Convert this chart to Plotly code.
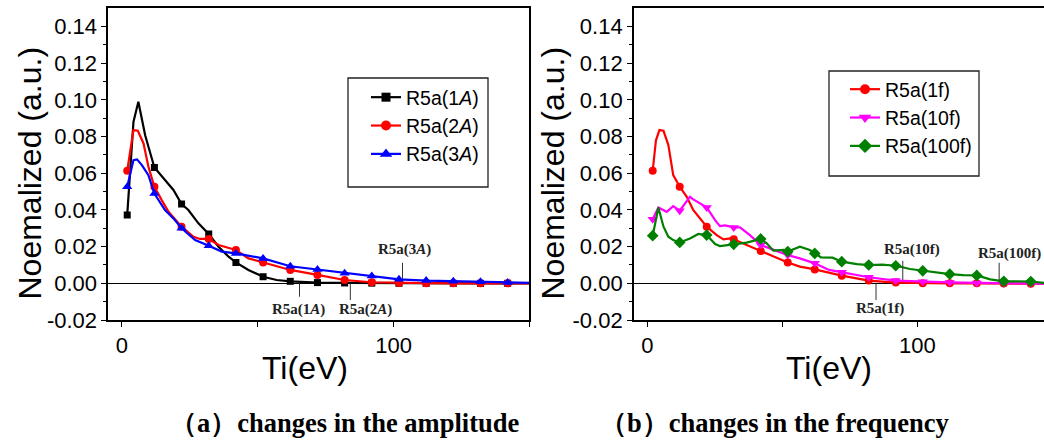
import plotly.graph_objects as go

# ---------------- data: panel (a) changes in the amplitude ----------------
x_1A = [2, 4.3, 6.1, 8.6, 12, 15.9, 19, 22, 24.5, 28.2, 32, 35.6, 39.3, 42, 46.6, 52, 57, 62,
        72, 82, 92, 102, 112, 122, 132, 142, 150]
y_1A = [0.0372, 0.0881, 0.099, 0.0808, 0.0632, 0.0563, 0.0509, 0.0432, 0.040, 0.0327, 0.0269,
        0.020, 0.0145, 0.0114, 0.0073, 0.0036, 0.0018, 0.0011, 0.0004, 0.0002, 0.0001, 0, 0, 0,
        0, 0, 0]

x_2A = [2, 4.3, 5.9, 8, 9.8, 12, 14.7, 17.2, 22, 26.4, 28.8, 32, 35.6, 42, 46.6, 52, 57.7, 62,
        72, 82, 92, 102, 112, 122, 132, 142, 150]
y_2A = [0.0614, 0.0836, 0.0832, 0.0763, 0.0636, 0.0527, 0.0454, 0.039, 0.0309, 0.0254, 0.0242,
        0.0242, 0.0209, 0.0182, 0.0136, 0.0113, 0.0091, 0.0073, 0.0046, 0.0018, 0.0006, 0.0002,
        0.0001, 0, 0, 0, 0]

x_3A = [2, 4.3, 5.6, 7.4, 9.8, 12, 15.9, 19, 22, 27, 32, 36.8, 42, 52, 62, 72, 82, 92, 102,
        112, 122, 132, 142, 150]
y_3A = [0.0527, 0.0672, 0.0676, 0.0645, 0.059, 0.049, 0.040, 0.0354, 0.030, 0.0236, 0.0205,
        0.0173, 0.0163, 0.0136, 0.0093, 0.0075, 0.0055, 0.004, 0.0022, 0.0015, 0.0011, 0.0009,
        0.0005, 0.0003]

# ---------------- data: panel (b) changes in the frequency ----------------
x_1f = [2, 3.2, 4.5, 6, 7.8, 9.6, 12, 14.6, 17, 18.9, 22, 25.7, 28.2, 30.6, 32, 36.8, 42, 46.7,
        52, 56.5, 62, 72, 82, 92, 102, 112, 122, 132, 142, 147]
y_1f = [0.0614, 0.078, 0.0836, 0.0832, 0.0754, 0.059, 0.0527, 0.0472, 0.040, 0.0363, 0.0309,
        0.0263, 0.024, 0.0245, 0.024, 0.0209, 0.0176, 0.0145, 0.0114, 0.0091, 0.0076, 0.0042,
        0.0015, 0.0004, 0.0001, 0, 0, -0.0001, -0.0002, -0.0002]

x_10f = [2, 4.1, 7.2, 9.6, 12, 15.8, 17, 19.5, 22, 25.1, 26.9, 28.8, 32, 34.3, 38, 42, 46.7,
         52, 56.5, 62, 67.3, 72, 82, 92, 102, 112, 122, 132, 142, 147]
y_10f = [0.0349, 0.0414, 0.039, 0.0421, 0.0396, 0.0472, 0.0458, 0.0436, 0.0414, 0.0345, 0.0312,
         0.0316, 0.0305, 0.0305, 0.0263, 0.0209, 0.0185, 0.0154, 0.0136, 0.0109, 0.0073, 0.0060,
         0.0033, 0.0015, 0.0009, 0.0005, 0.0002, 0, -0.0001, -0.0002]

x_100f = [2, 4.1, 6, 7.8, 9.6, 12, 15.8, 18.9, 22, 25.1, 26.9, 32, 36.8, 42, 44.2, 46.7, 50.4,
          52, 56.5, 60.2, 62, 64.3, 68.6, 72, 77.6, 82, 87, 92, 97.3, 102, 112, 117, 122, 127,
          132, 142, 147]
y_100f = [0.026, 0.0414, 0.0309, 0.0254, 0.0236, 0.0223, 0.0245, 0.0269, 0.0263, 0.0214, 0.0203,
          0.0213, 0.0222, 0.0242, 0.0218, 0.0178, 0.0182, 0.0173, 0.020, 0.0182, 0.0163, 0.0142,
          0.014, 0.0118, 0.0105, 0.010, 0.0102, 0.0096, 0.0078, 0.0068, 0.005, 0.0045, 0.0043,
          0.0022, 0.0011, 0.0010, 0.0002]

marker_x = [2, 12, 22, 32, 42, 52, 62, 72, 82, 92, 102, 112, 122, 132, 142]

y_tickvals = [-0.02, 0.0, 0.02, 0.04, 0.06, 0.08, 0.10, 0.12, 0.14]
y_ticktext = ["-0.02", "0.00", "0.02", "0.04", "0.06", "0.08", "0.10", "0.12", "0.14"]
y_minor = [-0.01, 0.01, 0.03, 0.05, 0.07, 0.09, 0.11, 0.13]
x_tickvals = [0, 50, 100, 150]
x_ticktext = ["0", "", "100", ""]

# ---------------- layout helpers ----------------
W, H = 1044, 441
SANS = "Arial, 'Liberation Sans', sans-serif"
SERIF = "'Times New Roman', 'Liberation Serif', serif"


def fx(p):
    return p / W


def fy(p):
    return 1 - p / H


fig = go.Figure()


def add_series(x, y, name, color, symbol, size, xa, ya, legend):
    mx = [xi for xi in x if xi in marker_x]
    my = [yi for xi, yi in zip(x, y) if xi in marker_x]
    fig.add_trace(go.Scatter(x=x, y=y, mode="lines", line=dict(color=color, width=2.2),
                             showlegend=False, xaxis=xa, yaxis=ya, hoverinfo="skip"))
    fig.add_trace(go.Scatter(x=mx, y=my, mode="markers",
                             marker=dict(color=color, symbol=symbol, size=size),
                             showlegend=False, xaxis=xa, yaxis=ya))
    fig.add_trace(go.Scatter(x=[None], y=[None], mode="lines+markers", name=name,
                             line=dict(color=color, width=2.2),
                             marker=dict(color=color, symbol=symbol, size=size + 2),
                             xaxis=xa, yaxis=ya, legend=legend))


add_series(x_1A, y_1A, "R5a(1<i>A</i>)", "#000000", "square", 7, "x", "y", "legend")
add_series(x_2A, y_2A, "R5a(2<i>A</i>)", "#FF0000", "circle", 8, "x", "y", "legend")
add_series(x_3A, y_3A, "R5a(3<i>A</i>)", "#0000FF", "triangle-up", 9, "x", "y", "legend")
add_series(x_1f, y_1f, "R5a(1f)", "#FF0000", "circle", 8, "x2", "y2", "legend2")
add_series(x_10f, y_10f, "R5a(10f)", "#FF00FF", "triangle-down", 9, "x2", "y2", "legend2")
add_series(x_100f, y_100f, "R5a(100f)", "#008000", "diamond", 9, "x2", "y2", "legend2")

ydom = [fy(320), fy(8.3)]
common_x = dict(showline=True, linecolor="black", linewidth=1.5, mirror=True, ticks="outside",
                ticklen=5, tickcolor="black", tickvals=x_tickvals, ticktext=x_ticktext,
                tickfont=dict(family=SANS, size=22, color="black"), showgrid=False,
                zeroline=False, automargin=False)
common_y = dict(showline=True, linecolor="black", linewidth=1.5, ticks="outside", ticklen=5,
                tickcolor="black", tickvals=y_tickvals, ticktext=y_ticktext,
                tickfont=dict(family=SANS, size=22, color="black"), showgrid=False,
                zeroline=True, zerolinecolor="black", zerolinewidth=1,
                range=[-0.02, 0.15], domain=ydom, automargin=False,
                minor=dict(tickmode="array", tickvals=y_minor, ticks="outside", ticklen=3,
                           tickcolor="black", showgrid=False))

LEG_FONT = dict(family=SANS, size=19.5, color="black")
fig.update_layout(
    width=W, height=H, autosize=False, margin=dict(l=0, r=0, t=0, b=0, pad=0),
    paper_bgcolor="white", plot_bgcolor="white",
    xaxis=dict(domain=[fx(108.2), fx(529.4)], range=[-5, 150], anchor="y", **common_x),
    yaxis=dict(anchor="x", mirror=True, **common_y),
    xaxis2=dict(domain=[fx(633.8), 1.0], range=[-5, 146.9], anchor="y2", **common_x),
    yaxis2=dict(anchor="x2", mirror=False, **common_y),
    legend=dict(x=fx(366), y=fy(78), xanchor="left", yanchor="top", bgcolor="rgba(0,0,0,0)",
                borderwidth=0, font=LEG_FONT, tracegroupgap=0),
    legend2=dict(x=fx(845), y=fy(70), xanchor="left", yanchor="top", bgcolor="rgba(0,0,0,0)",
                 borderwidth=0, font=LEG_FONT, tracegroupgap=0),
    showlegend=True,
)

# legend frames
fig.add_shape(type="rect", xref="paper", yref="paper", x0=fx(348), x1=fx(488), y0=fy(187),
              y1=fy(78), line=dict(color="#222222", width=1.3), fillcolor="white", layer="above")
fig.add_shape(type="rect", xref="paper", yref="paper", x0=fx(829), x1=fx(979), y0=fy(176),
              y1=fy(71), line=dict(color="#222222", width=1.3), fillcolor="white", layer="above")

# pointer lines for curve labels
pointers = [
    ("x", "y", 65.4, 0.0, -0.0073),
    ("x", "y", 84.1, 0.0, -0.0091),
    ("x", "y", 103.3, 0.0112, 0.0022),
    ("x2", "y2", 84.7, 0.0, -0.0091),
    ("x2", "y2", 94.6, 0.0123, 0.0018),
    ("x2", "y2", 130.3, 0.0112, 0.0018),
]
for xr, yr, xv, y0, y1 in pointers:
    fig.add_shape(type="line", xref=xr, yref=yr, x0=xv, x1=xv, y0=y0, y1=y1,
                  line=dict(color="#333333", width=1))

labels = [
    ("x", "y", 65.0, -0.0140, "R5a(1<i>A</i>)"),
    ("x", "y", 89.5, -0.0140, "R5a(2<i>A</i>)"),
    ("x", "y", 104.0, 0.0185, "R5a(3<i>A</i>)"),
    ("x2", "y2", 86.0, -0.0136, "R5a(1f)"),
    ("x2", "y2", 98.0, 0.0182, "R5a(10f)"),
    ("x2", "y2", 134.3, 0.0163, "R5a(100f)"),
]
for xr, yr, xv, yv, t in labels:
    fig.add_annotation(xref=xr, yref=yr, x=xv, y=yv, text="<b>" + t + "</b>", showarrow=False,
                       xanchor="center", yanchor="middle",
                       font=dict(family=SERIF, size=15, color="#222222"))

# axis titles
for xc in (29, 552):
    fig.add_annotation(xref="paper", yref="paper", x=fx(xc), y=fy(173.5), text="Noemalized (a.u.)",
                       textangle=-90, showarrow=False, xanchor="center", yanchor="middle",
                       font=dict(family=SANS, size=32, color="black"))
for xc in (305, 829):
    fig.add_annotation(xref="paper", yref="paper", x=fx(xc), y=fy(368), text="Ti(eV)",
                       showarrow=False, xanchor="center", yanchor="middle",
                       font=dict(family=SANS, size=32, color="black"))

# captions
captions = [(344, "（a）changes in the amplitude"), (774, "（b）changes in the frequency")]
for xc, t in captions:
    fig.add_annotation(xref="paper", yref="paper", x=fx(xc), y=fy(423), text="<b>" + t + "</b>",
                       showarrow=False, xanchor="center", yanchor="middle",
                       font=dict(family=SERIF, size=26.5, color="black"))

fig.write_html("out.html", config={"responsive": False})
